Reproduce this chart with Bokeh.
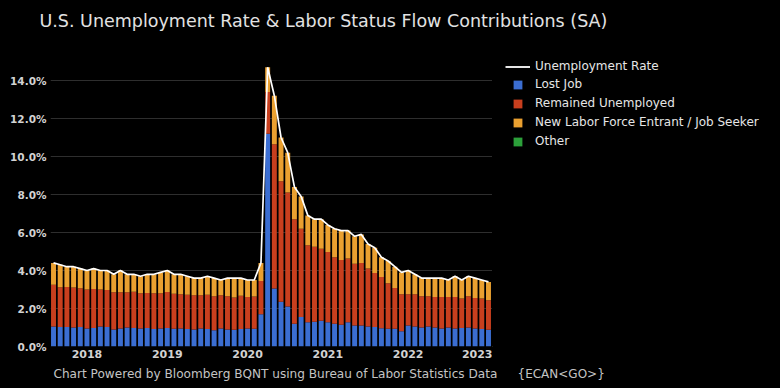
import pandas as pd
from bokeh.plotting import figure
from bokeh.layouts import column, row
from bokeh.models import (Range1d, FixedTicker, PrintfTickFormatter, Legend,
                          LegendItem, Label, ColumnDataSource)
from bokeh.embed import file_html
from bokeh.resources import INLINE

# ---------------- data ----------------
months = pd.date_range("2017-08-01", "2023-01-01", freq="MS")
month_labels = [m.strftime("%Y-%m") for m in months]
tick_labels = ["2018", "2019", "2020", "2021", "2022", "2023"]

unemployment_rate = [
    4.4, 4.3, 4.2, 4.2, 4.1,
    4.0, 4.1, 4.0, 4.0, 3.8, 4.0, 3.8, 3.8, 3.7, 3.8, 3.8, 3.9,
    4.0, 3.8, 3.8, 3.7, 3.6, 3.6, 3.7, 3.6, 3.5, 3.6, 3.6, 3.6,
    3.5, 3.5, 4.4, 14.7, 13.2, 11.0, 10.2, 8.4, 7.9, 6.9, 6.7, 6.7,
    6.4, 6.2, 6.1, 6.1, 5.8, 5.9, 5.4, 5.2, 4.7, 4.5, 4.2, 3.9,
    4.0, 3.8, 3.6, 3.6, 3.6, 3.6, 3.5, 3.7, 3.5, 3.7, 3.6, 3.5,
    3.4,
]
lost_job = [
    1.05, 1.02, 1.03, 1.00, 1.02,
    0.95, 0.98, 1.05, 1.02, 0.90, 0.95, 1.00, 0.98, 0.95, 0.97, 0.92, 0.95,
    0.97, 0.93, 0.95, 0.92, 0.90, 0.95, 0.92, 0.85, 0.95, 0.90, 0.88, 0.92,
    0.95, 0.93, 1.70, 11.20, 3.05, 2.35, 2.10, 1.20, 1.55, 1.28, 1.30, 1.35,
    1.28, 1.20, 1.15, 1.28, 1.10, 1.10, 1.05, 1.02, 0.96, 0.93, 0.93, 0.80,
    1.10, 1.05, 1.00, 1.05, 1.00, 0.95, 1.00, 0.95, 0.98, 1.00, 0.95, 0.92,
    0.88,
]
remained_unemployed = [
    2.20, 2.10, 2.10, 2.10, 2.05,
    2.05, 2.05, 1.95, 1.95, 1.95, 1.90, 1.85, 1.90, 1.85, 1.85, 1.88, 1.85,
    1.90, 1.85, 1.80, 1.80, 1.80, 1.75, 1.80, 1.80, 1.75, 1.75, 1.70, 1.75,
    1.65, 1.70, 1.75, 2.20, 7.60, 6.35, 6.00, 5.50, 4.65, 4.05, 3.95, 3.80,
    3.70, 3.50, 3.40, 3.35, 3.25, 3.30, 3.05, 2.85, 2.70, 2.40, 2.15, 1.95,
    1.65, 1.70, 1.65, 1.60, 1.60, 1.65, 1.60, 1.65, 1.55, 1.65, 1.60, 1.60,
    1.55,
]
new_entrant = [
    1.15, 1.18, 1.07, 1.10, 1.03,
    1.00, 1.07, 1.00, 1.03, 0.95, 1.15, 0.95, 0.92, 0.90, 0.98, 1.00, 1.10,
    1.13, 1.02, 1.05, 0.98, 0.90, 0.90, 0.98, 0.95, 0.80, 0.95, 1.02, 0.93,
    0.90, 0.87, 0.95, 1.30, 2.55, 2.30, 2.10, 1.70, 1.70, 1.57, 1.45, 1.55,
    1.42, 1.50, 1.55, 1.47, 1.45, 1.50, 1.30, 1.33, 1.04, 1.17, 1.12, 1.15,
    1.25, 1.05, 0.95, 0.95, 1.00, 1.00, 0.90, 1.10, 0.97, 1.05, 1.05, 0.98,
    0.97,
]
other = [
    0.0, 0.0, 0.0, 0.0, 0.0,
    0.0, 0.0, 0.0, 0.0, 0.0, 0.0, 0.0, 0.0, 0.0, 0.0, 0.0, 0.0,
    0.0, 0.0, 0.0, 0.0, 0.0, 0.0, 0.0, 0.0, 0.0, 0.0, 0.0, 0.0,
    0.0, 0.0, 0.0, 0.0, 0.0, 0.0, 0.0, 0.0, 0.0, 0.0, 0.0, 0.0,
    0.0, 0.0, 0.0, 0.0, 0.0, 0.0, 0.0, 0.0, 0.0, 0.0, 0.0, 0.0,
    0.0, 0.0, 0.0, 0.0, 0.0, 0.0, 0.0, 0.0, 0.0, 0.0, 0.0, 0.0,
    0.0,
]
series_names = ["Lost Job", "Remained Unemployed",
                "New Labor Force Entrant / Job Seeker", "Other"]
series_colors = ["#3b6ed2", "#c83f1e", "#eaa030", "#2ca03a"]
title_text = "U.S. Unemployment Rate & Labor Status Flow Contributions (SA)"
footer_text = "Chart Powered by Bloomberg BQNT using Bureau of Labor Statistics Data"
footer_code = "{ECAN<GO>}"

# ---------------- styling ----------------
FONT = "DejaVu Sans"
BG = "#000000"


def blank_fig(w, h):
    f = figure(width=w, height=h, output_backend="svg", toolbar_location=None,
               x_axis_type=None, y_axis_type=None,
               x_range=Range1d(0, w), y_range=Range1d(0, h),
               background_fill_color=BG, border_fill_color=BG,
               min_border=0)
    f.outline_line_color = None
    return f


# ---------------- title strip ----------------
title_fig = blank_fig(780, 46)
title_fig.add_layout(Label(x=39, y=26, x_units="screen", y_units="screen",
                           text=title_text, text_font=FONT, text_font_size="17.5px",
                           text_color="#e2e2e2", text_baseline="middle"))

# ---------------- main chart ----------------
x_idx = list(range(len(month_labels)))
src = ColumnDataSource(dict(
    x=x_idx, month=month_labels, rate=unemployment_rate,
    lost=lost_job, remained=remained_unemployed,
    entrant=new_entrant, other=other,
))

p = figure(width=492, height=316, output_backend="svg", toolbar_location=None,
           x_range=Range1d(-0.45, 65.6), y_range=Range1d(0, 15),
           background_fill_color=BG, border_fill_color=BG,
           min_border_left=50, min_border_right=0,
           min_border_top=15, min_border_bottom=16)
p.outline_line_color = None

stack_r = p.vbar_stack(["lost", "remained", "entrant", "other"], x="x",
                       width=0.74, color=series_colors, line_color=None,
                       source=src)
line_r = p.line("x", "rate", source=src, line_color="#ffffff", line_width=1.7)

jan_pos = [i for i, m in enumerate(month_labels) if m.endswith("-01")]
p.xaxis.ticker = FixedTicker(ticks=jan_pos)
p.xaxis.major_label_overrides = {pos: lab for pos, lab in zip(jan_pos, tick_labels)}
p.yaxis.ticker = FixedTicker(ticks=[0, 2, 4, 6, 8, 10, 12, 14])
p.yaxis.formatter = PrintfTickFormatter(format="%.1f%%")
for ax in (p.xaxis, p.yaxis):
    ax.axis_line_color = None
    ax.major_tick_line_color = None
    ax.minor_tick_line_color = None
    ax.major_tick_out = 0
    ax.major_tick_in = 0
    ax.minor_tick_out = 0
    ax.major_label_text_color = "#d2d2d2"
    ax.major_label_text_font = FONT
    ax.major_label_text_font_size = "11px"
    ax.major_label_text_font_style = "bold"
p.yaxis.major_label_text_font_size = "10.5px"
p.xaxis.major_label_standoff = 3
p.yaxis.major_label_standoff = 4

p.xgrid.grid_line_color = None
p.ygrid.grid_line_color = "#2e2e2e"
p.ygrid.grid_line_width = 1

# ---------------- legend panel ----------------
# proxy renderers (outside the visible range) that only supply the legend swatches
leg_fig = blank_fig(288, 316)
lg_line = leg_fig.line(x=[-30, -20], y=[-30, -30], line_color="#ffffff", line_width=1.8)
lg_bars = [leg_fig.vbar(x=[-30], top=[-30], width=1, color=c, line_color=None)
           for c in series_colors]

common = dict(padding=0, margin=0, glyph_height=11,
              background_fill_alpha=0, border_line_alpha=0,
              label_text_font=FONT, label_text_font_size="12px",
              label_text_color="#e6e6e6")
leg_line = Legend(items=[LegendItem(label="Unemployment Rate", renderers=[lg_line])],
                  location=(13, 272), glyph_width=25, label_standoff=5,
                  label_height=16, spacing=0, **common)
leg_bars = Legend(items=[LegendItem(label=n, renderers=[r])
                         for n, r in zip(series_names, lg_bars)],
                  location=(20, 198), glyph_width=11, label_standoff=12,
                  label_height=14, spacing=5, **common)
leg_fig.add_layout(leg_line)
leg_fig.add_layout(leg_bars)

# ---------------- footer strip ----------------
foot_fig = blank_fig(780, 26)
foot_fig.add_layout(Label(x=53, y=15, x_units="screen", y_units="screen",
                          text=footer_text, text_font=FONT, text_font_size="12.1px",
                          text_color="#c4c4c4", text_baseline="middle"))
foot_fig.add_layout(Label(x=517, y=15, x_units="screen", y_units="screen",
                          text=footer_code, text_font=FONT, text_font_size="12px",
                          text_color="#c4c4c4", text_baseline="middle"))

layout = column(title_fig, row(p, leg_fig, spacing=0), foot_fig, spacing=0)

html = file_html(layout, INLINE, title="U.S. Unemployment Rate & Labor Status Flow Contributions")
html = html.replace("<body>", '<body style="background-color:#000000;margin:0;">')
open("out.html", "w").write(html)
